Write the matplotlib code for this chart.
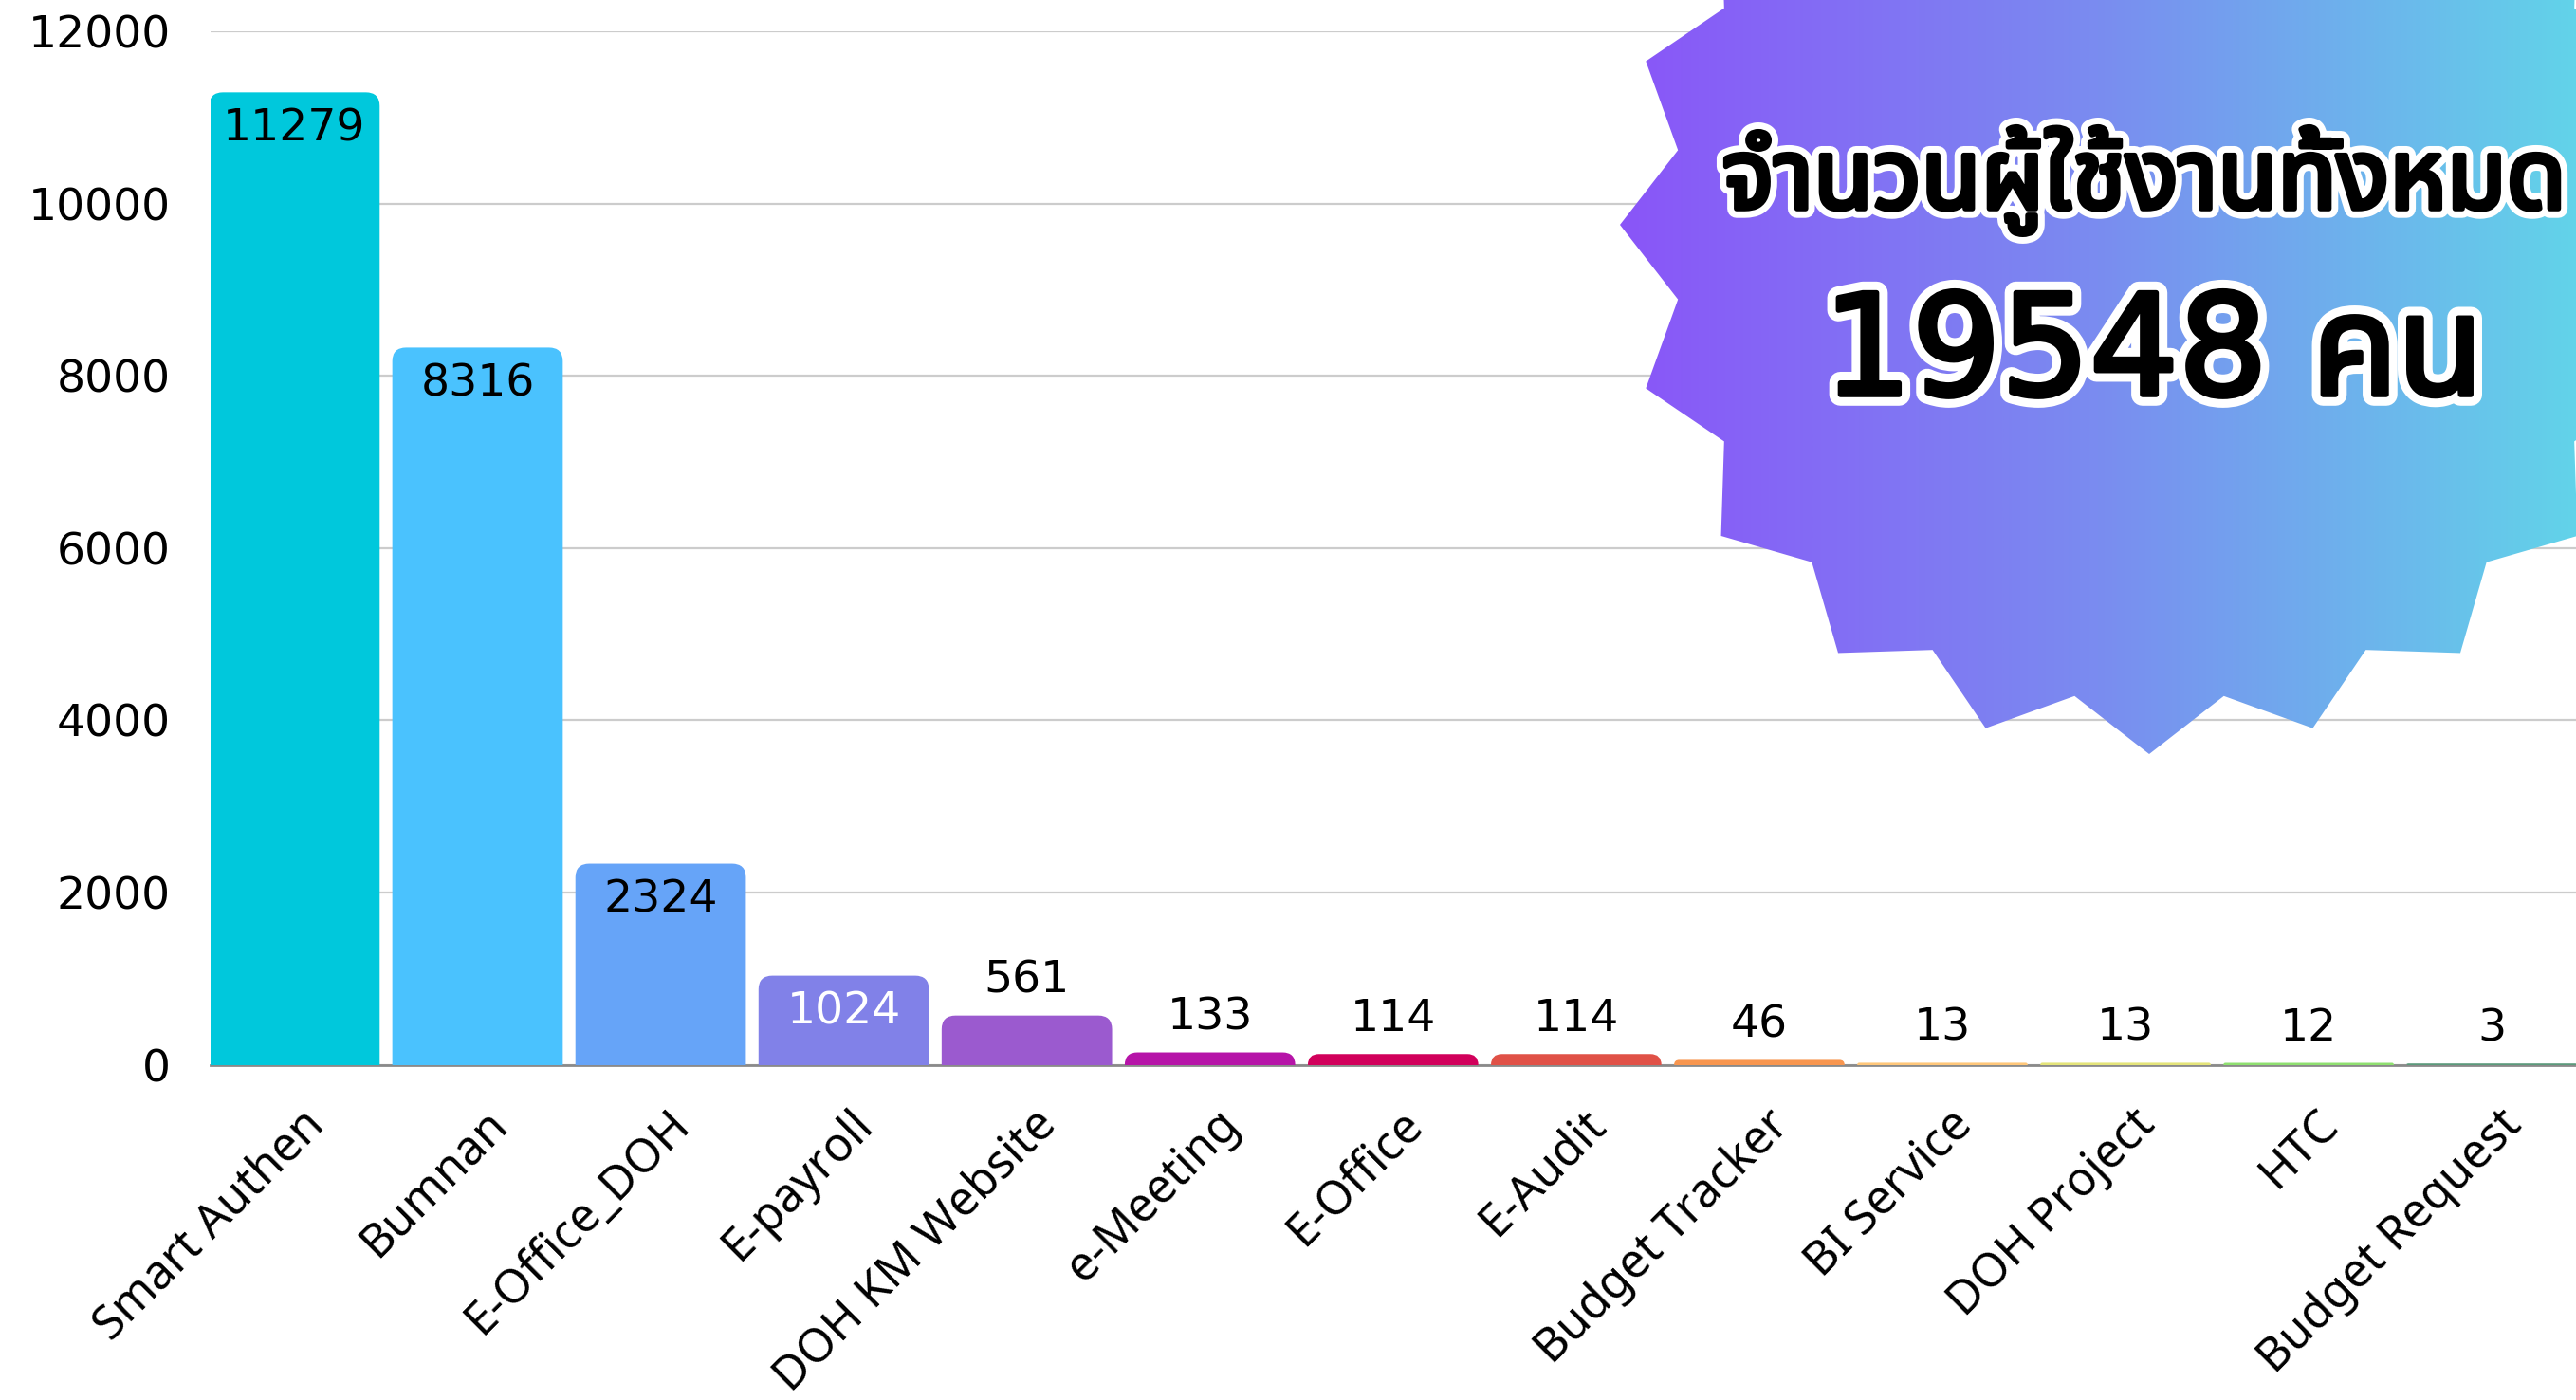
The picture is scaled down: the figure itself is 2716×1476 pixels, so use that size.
import numpy as np
import matplotlib
matplotlib.use("Agg")
import matplotlib.pyplot as plt
import matplotlib.patheffects as pe
from matplotlib import font_manager, ft2font
from matplotlib.patches import FancyBboxPatch, Polygon
from matplotlib.colors import to_rgb, LinearSegmentedColormap

# data
apps = ["Smart Authen", "Bumnan", "E-Office_DOH", "E-payroll", "DOH KM Website",
        "e-Meeting", "E-Office", "E-Audit", "Budget Tracker", "BI Service",
        "DOH Project", "HTC", "Budget Request"]
users = [11279, 8316, 2324, 1024, 561, 133, 114, 114, 46, 13, 13, 12, 3]
badge_title = "จำนวนผู้ใช้งานทั้งหมด"
badge_total = "19548 คน"
yticks = [0, 2000, 4000, 6000, 8000, 10000, 12000]

bar_colors = ["#00C8DC", "#4AC2FE", "#66A4F8", "#8181E8", "#9B5ACF", "#B614A8",
              "#D1005B", "#E05147", "#F8964F", "#FFC77A", "#E4E47A", "#8FE070",
              "#5C9A7C"]


def pick_thai_font():
    names = set()
    for f in font_manager.fontManager.ttflist:
        try:
            cm = ft2font.FT2Font(f.fname).get_charmap()
        except Exception:
            continue
        if 0x0E08 in cm:
            names.add(f.name)
    for want in ["Noto Sans Thai", "Noto Sans Thai UI", "Kanit", "Prompt", "Anuphan"]:
        if want in names:
            return want
    return sorted(names)[0] if names else "DejaVu Sans"


thai_family = pick_thai_font()
num_font = ["DejaVu Sans"]

plt.rcParams["font.family"] = ["Noto Sans", "DejaVu Sans"]

fig = plt.figure(figsize=(27.16, 14.76), dpi=100)
ax = fig.add_axes([0.0816, 0.2394, 0.9184, 0.7383])

x = np.arange(len(apps))
W = 0.92
rx = 0.07
aspect = 2100
for xi, v, c in zip(x, users, bar_colors):
    rs = min(rx, v / aspect)
    box = FancyBboxPatch((xi - W / 2, -rs * aspect), W, v + rs * aspect,
                         boxstyle="round,pad=0,rounding_size=%f" % rs,
                         mutation_aspect=aspect, fc=c, ec=c, lw=1.5, zorder=3)
    ax.add_patch(box)
    r, g, b = to_rgb(c)
    lum = 0.2126 * r ** 2.2 + 0.7152 * g ** 2.2 + 0.0722 * b ** 2.2
    if v >= 1000:
        ax.annotate(str(v), (xi, v), xytext=(0, -27), textcoords="offset points",
                    ha="center", va="center", fontsize=34, family=num_font, zorder=4,
                    color="white" if lum < 0.3 else "black")
    else:
        ax.annotate(str(v), (xi, v), xytext=(0, 27), textcoords="offset points",
                    ha="center", va="center", fontsize=34, family=num_font,
                    zorder=4, color="black")
    # category label under the bar
    ax.annotate(apps[xi], (xi, 0), xytext=(17, -40), textcoords="offset points",
                rotation=45, ha="right", va="center", rotation_mode="anchor",
                fontsize=35.5, color="black", annotation_clip=False)

ax.set_xlim(-0.46, 12.46)
ax.set_ylim(0, 12000)
ax.set_yticks(yticks)
ax.set_yticklabels([str(t) for t in yticks], fontsize=34, family=num_font)
ax.set_xticks(x)
ax.set_xticklabels([])
ax.tick_params(axis="both", length=0)
ax.tick_params(axis="y", pad=30)
for s in ["top", "right", "left"]:
    ax.spines[s].set_visible(False)
ax.spines["bottom"].set_color("#8a8a8a")
ax.spines["bottom"].set_linewidth(2)
ax.spines["bottom"].set_zorder(2)
ax.grid(axis="y", color="#cccccc", linewidth=1.6, zorder=0)
ax.set_axisbelow(True)

# badge overlay in pixel coordinates
ov = fig.add_axes([0, 0, 1, 1])
ov.set_xlim(0, 2716)
ov.set_ylim(1476, 0)
ov.axis("off")
cx, cy, ro, ri = 2266, 237, 558, 503
ang = np.deg2rad(90 + 9 * np.arange(40))
rad = np.where(np.arange(40) % 2 == 0, ro, ri)
star = Polygon(np.column_stack([cx + rad * np.cos(ang), cy + rad * np.sin(ang)]),
               closed=True, fc="none", ec="none")
ov.add_patch(star)
cmap = LinearSegmentedColormap.from_list("badge", ["#8A55F8", "#7A8CF0", "#62D3E9"])
grad = np.linspace(0, 1, 512).reshape(1, -1)
img = ov.imshow(grad, cmap=cmap, extent=[cx - ro, 2716, cy + ro, 0], aspect="auto",
                interpolation="bilinear")
img.set_clip_path(star)

# heavy black text with a white outline (black stroke thickens the glyphs)
heavy1 = [pe.withStroke(linewidth=14, foreground="white"),
          pe.withStroke(linewidth=4, foreground="black"), pe.Normal()]
heavy2 = [pe.withStroke(linewidth=17, foreground="white"),
          pe.withStroke(linewidth=4, foreground="black"), pe.Normal()]
t1 = ov.text(2261, 220, badge_title, ha="center", va="baseline", fontsize=70,
             family=[thai_family, "DejaVu Sans"], color="black", path_effects=heavy1)
t2 = ov.text(2270, 416, badge_total, ha="center", va="baseline", fontsize=105,
             family=["DejaVu Sans", thai_family], color="black", path_effects=heavy2)

# fit badge text widths to the picture
fig.canvas.draw()
r = fig.canvas.get_renderer()
for t, target in [(t1, 890), (t2, 696)]:
    w = t.get_window_extent(r).width
    t.set_fontsize(t.get_fontsize() * target / w)

fig.savefig("out.png", dpi=100)
